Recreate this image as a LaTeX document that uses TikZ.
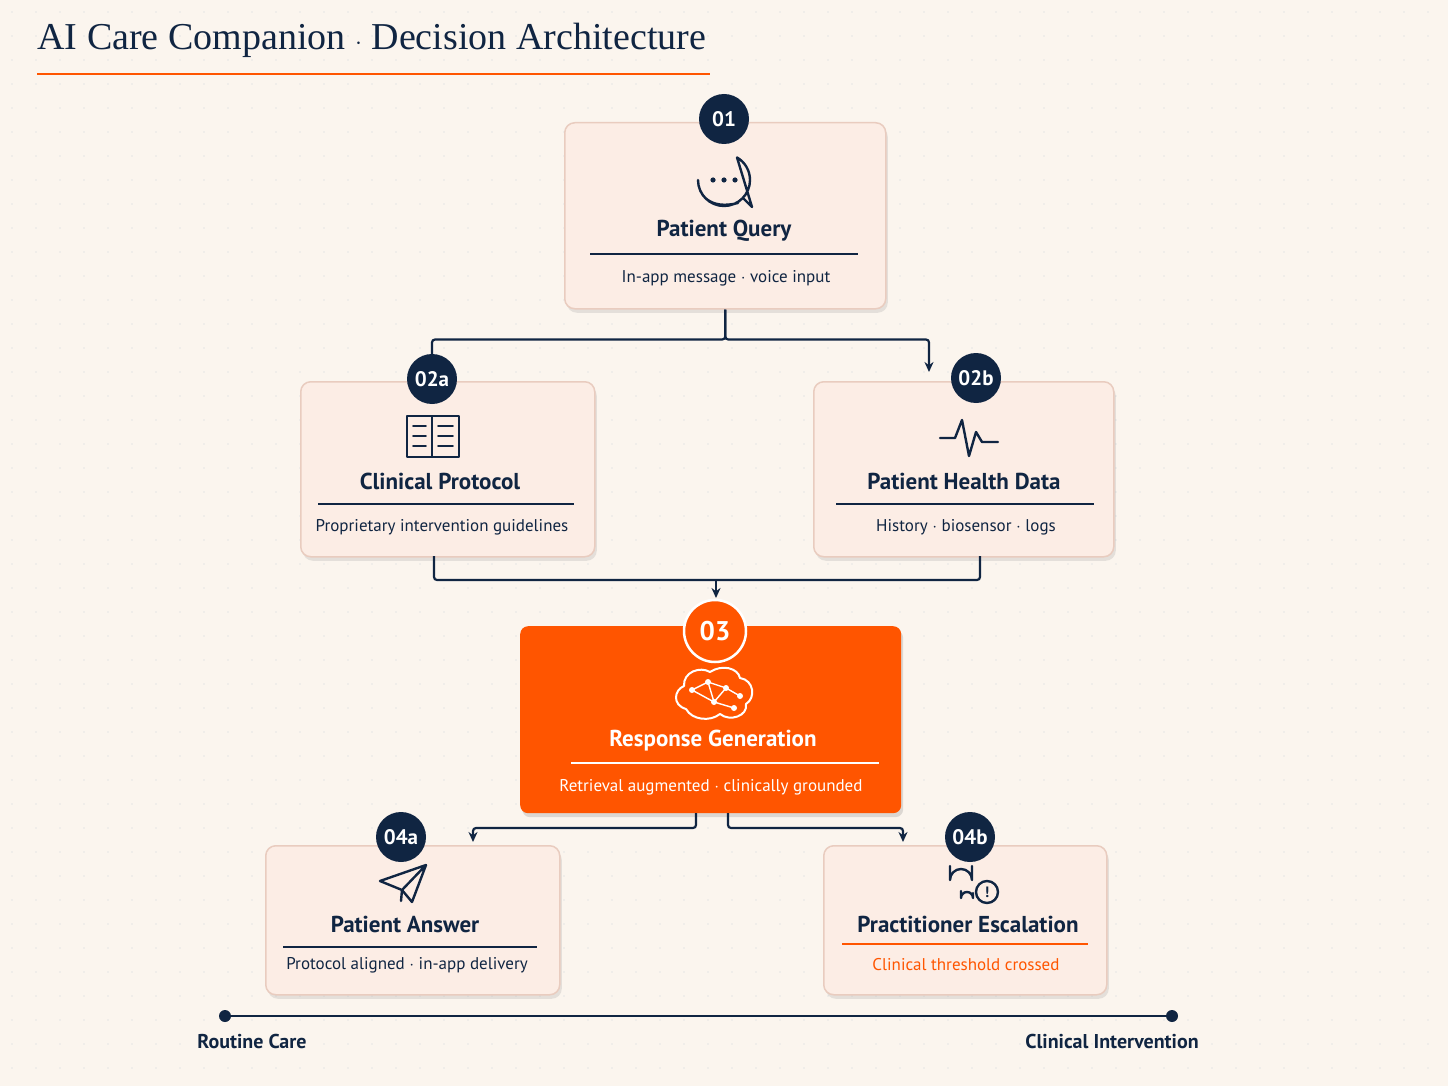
\documentclass[tikz,border=0pt]{standalone}
\usepackage{fontspec}
\setmainfont{PT Sans}
\newfontfamily\titlefont{Liberation Serif}
\usetikzlibrary{shadows,arrows.meta}
\definecolor{navy}{HTML}{102542}
\definecolor{flame}{HTML}{FF5500}
\definecolor{cream}{HTML}{FBF5EE}
\definecolor{cardfill}{HTML}{FCEDE5}
\definecolor{cardedge}{HTML}{E9CCBF}

\tikzstyle{card}=[draw=cardedge, line width=1.5pt, fill=cardfill, rounded corners=10pt,
                  drop shadow={shadow xshift=2pt, shadow yshift=-4pt, opacity=.18}]
\tikzstyle{hot-card}=[fill=flame, rounded corners=8pt,
                  drop shadow={shadow xshift=2pt, shadow yshift=-4pt, opacity=.25}]
\tikzstyle{badge}=[circle, fill=navy, text=white, minimum size=50pt, inner sep=0pt,
                   font=\fontsize{21}{24}\selectfont\bfseries]
\tikzstyle{heading}=[text=navy, font=\fontsize{23}{26}\selectfont\bfseries]
\tikzstyle{subline}=[text=navy, font=\fontsize{17}{20}\selectfont]
\tikzstyle{wire} = [draw, navy, line width=2.2pt, rounded corners=3pt]
\tikzstyle{arrow-wire} = [wire, -{Stealth[length=10pt,width=9pt]}]
\tikzstyle{icon} = [navy, line width=2.4pt, line cap=round, line join=round]

\begin{document}
\begin{tikzpicture}[x=1pt, y=-1pt]
    % Background and dot grid
    \fill[cream] (0,0) rectangle (1448,1086);
    \useasboundingbox (0,0) rectangle (1448,1086);
    \foreach \x in {12,36,...,1448}
      \foreach \y in {12,36,...,1086}
        \fill[black!10] (\x,\y) circle (0.9pt);
    % Title
    \node[anchor=west, text=navy, font=\titlefont\fontsize{38}{42}\selectfont] (title) at (34,40)
      {AI Care Companion $\cdot$ Decision Architecture};
    \draw[flame, line width=2pt] (37,74) -- (710,74);

    % Cards
    \foreach \name/\xa/\ya/\xb/\yb in {q/564/122/885/308, cp/300/381/594/556,
        hd/813/381/1113/556, pa/265/845/559/994, pe/823/845/1106/994}
      \node[card, minimum width=\xb-\xa, minimum height=\yb-\ya, anchor=north west] (\name) at (\xa,\ya) {};
    \node[hot-card, minimum width=381, minimum height=187, anchor=north west] (rg) at (520,626) {};

    % Headings, rules and sub-lines
    \foreach \name/\x/\ya/\la/\lb/\yb/\head/\sub in {
        q/724/231/590/858/278/Patient Query/In-app message $\cdot$ voice input,
        cp/440/481/318/574/527/Clinical Protocol/Proprietary intervention guidelines,
        hd/964/481/836/1094/527/Patient Health Data/History $\cdot$ biosensor $\cdot$ logs,
        pa/405/924/283/537/965/Patient Answer/Protocol aligned $\cdot$ in-app delivery}
    {
      \node[heading] (\name-head) at (\x,\ya) {\head};
      \draw[navy, line width=1.6pt] (\la,\ya+23) -- (\lb,\ya+23);
      \node[subline] (\name-sub) at (\x+2,\yb) {\sub};
    }
    \node[heading] (pe-head) at (968,924) {Practitioner Escalation};
    \draw[flame, line width=1.6pt] (842,944) -- (1088,944);
    \node[subline, text=flame] (pe-sub) at (966,965) {Clinical threshold crossed};
    \node[heading, text=white] (rg-head) at (713,741) {Response Generation};
    \draw[white, line width=1.6pt] (571,763) -- (879,763);
    \node[subline, text=white] (rg-sub) at (711,787) {Retrieval augmented $\cdot$ clinically grounded};

    % Badges
    \foreach \pos/\name/\lbl in {{(724,119)/b1/01}, {(432,379)/b2a/02a}, {(976,378)/b2b/02b},
        {(401,837)/b4a/04a}, {(970,837)/b4b/04b}}
      \node[badge] (\name) at \pos {\lbl};
    \node[badge, fill=flame, draw=white, line width=2.5pt, minimum size=62pt,
          font=\fontsize{27}{30}\selectfont\bfseries] (b3) at (715,631) {03};

    % Icons
    \draw[icon] (738,203) .. controls (710,210) and (698,195) .. (698,180)
       arc[start angle=180, end angle=-60, radius=26] -- (752,207) -- (744,199);
    \foreach \dx in {-11,0,11} \fill[navy] (724+\dx,180) circle (2.6pt);
    \draw[icon] (407,416) rectangle (432,457) (432,416) rectangle (459,457);
    \foreach \y in {426,436,446} \draw[icon, line width=1.8pt] (413,\y) -- (426,\y) (438,\y) -- (453,\y);
    \draw[icon] (940,438) -- (955,438) -- (962,420) -- (969,456) -- (976,432) -- (982,442) -- (998,442);
    \draw[icon, white, line width=2pt] (686,709) .. controls (672,705) and (674,690) .. (684,686)
       .. controls (683,672) and (700,666) .. (710,672) .. controls (722,664) and (738,668) .. (740,678)
       .. controls (754,680) and (756,698) .. (746,704) .. controls (748,716) and (730,722) .. (720,714)
       .. controls (710,722) and (692,720) .. (686,709);
    \foreach \a/\b in {{(692,690)/(708,682)}, {(708,682)/(726,688)}, {(726,688)/(740,696)},
        {(708,682)/(714,702)}, {(726,688)/(714,702)}, {(692,690)/(714,702)}, {(714,702)/(734,708)}}
      \draw[white, line width=1.4pt] \a -- \b;
    \foreach \p in {(692,690),(708,682),(726,688),(740,696),(714,702),(734,708)}
      \fill[white] \p circle (3pt);
    \draw[icon] (380,881) -- (426,865) -- (412,902) -- (402,890) -- cycle (402,890) -- (426,865)
       (402,890) -- (401,901);
    \draw[icon] (950,866) -- (950,880) arc[start angle=180, end angle=360, radius=11] -- (972,866);
    \draw[icon] (961,891) -- (961,898) arc[start angle=180, end angle=360, radius=6] -- (973,893);
    \draw[icon] (987,892) circle (11pt);
    \node[text=navy, font=\fontsize{15}{15}\selectfont\bfseries] (warn) at (987,892) {!};

    % Connectors
    \coordinate (fork1) at (929,372);
    \coordinate (join) at (716,598);
    \coordinate (out-a) at (473,842);
    \coordinate (out-b) at (903,842);
    \path[wire] (q.south) -- ++(0,30) -| (b2a.north);
    \path[arrow-wire] (q.south) -- ++(0,30) -| (fork1);
    \path[wire] (434,556) -- (434,580) -- (980,580) -- (980,556);
    \path[arrow-wire] (716,580) -- (join);
    \path[arrow-wire] (696,813) |- (584,828) -| (out-a);
    \path[arrow-wire] (728,813) |- (820,828) -| (out-b);

    % Care scale
    \node[circle, fill=navy, inner sep=0pt, minimum size=12pt] (routine) at (225,1016) {};
    \node[circle, fill=navy, inner sep=0pt, minimum size=12pt] (clinical) at (1172,1016) {};
    \path[wire] (routine) -- (clinical);
    \node[heading, font=\fontsize{20}{22}\selectfont\bfseries] (routine-lbl) at (252,1041) {Routine Care};
    \node[heading, font=\fontsize{20}{22}\selectfont\bfseries] (clinical-lbl) at (1112,1041) {Clinical Intervention};
\end{tikzpicture}
\end{document}
